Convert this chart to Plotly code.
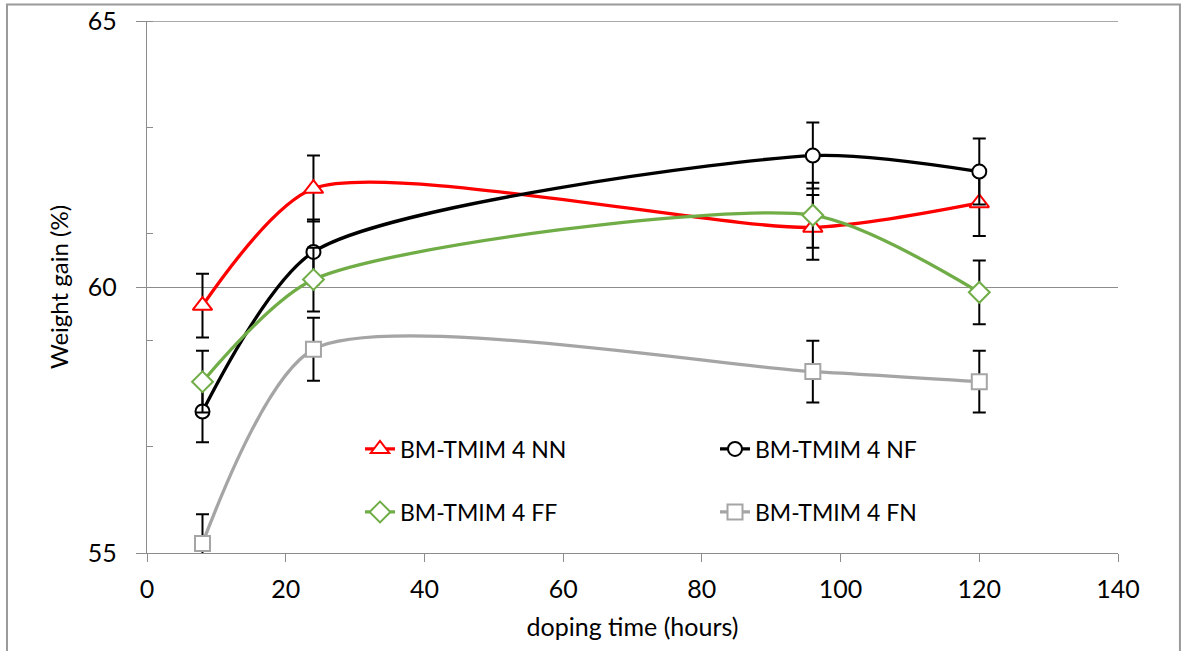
import plotly.graph_objects as go

# doping time (hours) and weight gain (%) for each sample
hours = [8, 24, 96, 120]

nn_gain = [59.65, 61.85, 61.12, 61.58]
nf_gain = [57.66, 60.66, 62.47, 62.17]
ff_gain = [58.22, 60.14, 61.35, 59.90]
fn_gain = [55.18, 58.83, 58.41, 58.22]

nn_err = [0.60, 0.62, 0.61, 0.62]
nf_err = [0.58, 0.61, 0.62, 0.62]
ff_err = [0.58, 0.60, 0.61, 0.60]
fn_err = [0.55, 0.59, 0.58, 0.58]

names = ["BM-TMIM 4 NN", "BM-TMIM 4 NF", "BM-TMIM 4 FF", "BM-TMIM 4 FN"]

x_ticks = [0, 20, 40, 60, 80, 100, 120, 140]
y_ticks = [55, 60, 65]

FONT = "Lato"
AXIS_GRAY = "#8c8c8c"

series = [
    (names[0], nn_gain, nn_err, "#FF0000", "triangle-up", 17, "legend"),
    (names[1], nf_gain, nf_err, "#000000", "circle", 14, "legend"),
    (names[2], ff_gain, ff_err, "#70AD47", "diamond", 16, "legend2"),
    (names[3], fn_gain, fn_err, "#A5A5A5", "square", 15, "legend2"),
]

fig = go.Figure()
for name, gain, err, color, symbol, size, leg in series:
    fig.add_trace(go.Scatter(
        x=hours, y=gain, name=name, mode="lines+markers",
        line=dict(color=color, width=3.3, shape="spline", smoothing=0.7),
        marker=dict(symbol=symbol, size=size, color="white",
                    line=dict(color=color, width=2)),
        error_y=dict(type="data", array=err, visible=True,
                     color="black", thickness=2, width=6.5),
        legend=leg,
    ))

# outer chart frame
fig.add_shape(type="rect", xref="paper", yref="paper",
              x0=-0.1442, x1=1.0638, y0=-0.25, y1=1.031,
              line=dict(color="#9a9a9a", width=2), layer="below")
# gridline along the top of the value range
fig.add_shape(type="line", xref="paper", yref="y",
              x0=0, x1=1, y0=65, y1=65,
              line=dict(color=AXIS_GRAY, width=1.3), layer="below")

legend_common = dict(
    orientation="h", xanchor="left", yanchor="middle",
    font=dict(family=FONT, size=23, color="black"),
    bgcolor="rgba(0,0,0,0)", borderwidth=0,
    entrywidth=310, entrywidthmode="pixels",
    itemclick=False, itemdoubleclick=False,
)

fig.update_layout(
    width=1187, height=651,
    margin=dict(l=147, r=69, t=21, b=98, autoexpand=False),
    paper_bgcolor="white", plot_bgcolor="white",
    font=dict(family=FONT, size=25, color="black"),
    showlegend=True,
    legend=dict(x=(360 - 147) / 971, y=(553 - 449) / 532, **legend_common),
    legend2=dict(x=(360 - 147) / 971, y=(553 - 512) / 532, **legend_common),
    xaxis=dict(
        range=[0, 140], tickvals=x_ticks, showgrid=False, zeroline=False,
        automargin=False,
        showline=True, linecolor=AXIS_GRAY, linewidth=1.3,
        ticks="outside", ticklen=8, tickcolor=AXIS_GRAY, tickwidth=1.3,
        ticklabelstandoff=6,
        tickfont=dict(family=FONT, size=25, color="black"),
        title=dict(text="doping time (hours)", standoff=16,
                   font=dict(family=FONT, size=25, color="black")),
    ),
    yaxis=dict(
        range=[55, 65], tickvals=y_ticks, zeroline=False,
        automargin=False,
        showgrid=True, gridcolor=AXIS_GRAY, gridwidth=1.3,
        showline=True, linecolor=AXIS_GRAY, linewidth=1.3,
        ticks="outside", ticklen=10, tickcolor=AXIS_GRAY, tickwidth=1.3,
        ticklabelstandoff=14,
        minor=dict(dtick=2, tick0=55, ticks="inside", ticklen=6,
                   tickcolor=AXIS_GRAY, tickwidth=1.3, showgrid=False),
        tickfont=dict(family=FONT, size=25, color="black"),
        title=dict(text="Weight gain (%)", standoff=12,
                   font=dict(family=FONT, size=24, color="black")),
    ),
)

fig.write_html("out.html")
